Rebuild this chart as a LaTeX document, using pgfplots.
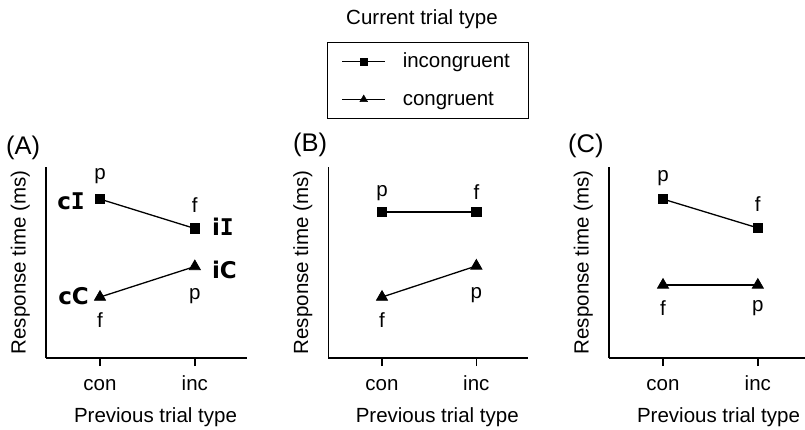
\documentclass[border=0pt]{standalone}
\usepackage{pgfplots}
\pgfplotsset{compat=1.18}
\usepackage{fontspec}
\setmainfont{Liberation Sans}
\newfontfamily\labfont{DejaVu Sans}
\newfontfamily\labmono{DejaVu Sans Mono}

\newcommand{\txt}{\fontsize{20.5bp}{24bp}\selectfont}
\newcommand{\condfont}{\fontsize{23bp}{27bp}\selectfont\bfseries}

\pgfplotsset{
  panel/.style={
    scale only axis, width=201bp, height=191bp,
    xmin=-0.57, xmax=1.55, ymin=0, ymax=100,
    axis x line=bottom, axis y line=left,
    axis line style={-, line width=1.4bp, black},
    xtick={0,1}, xticklabels={con,inc}, ytick=\empty,
    tick align=outside, major tick length=8bp,
    tick style={line width=1.4bp, black},
    xticklabel style={anchor=base, yshift=-24bp},
    xlabel={Previous trial type}, ylabel={Response time (ms)},
    xlabel style={at={(axis description cs:0.545,0)}, anchor=base, yshift=-64.5bp},
    ylabel style={at={(axis description cs:-0.101,0.5)}, anchor=base},
    font=\txt,
    clip=false,
  },
  incong/.style={black, line width=1.3bp, mark=square*, mark size=4.7bp,
    mark options={line width=0.8bp}},
  cong/.style={black, line width=1.3bp, mark=triangle*, mark size=6.4bp,
    mark options={line width=0.8bp}},
}

\begin{document}
\begin{tikzpicture}[x=1bp, y=1bp, font=\txt]
\useasboundingbox (0,0) rectangle (805,429);

% panel A
\begin{axis}[panel, at={(100bp,71bp)}, anchor=origin]
\addplot[incong] coordinates {(0,83.2) (1,67.8)};
\addplot[cong] coordinates {(0,31.9) (1,47.9)};
\node[anchor=base, yshift=20bp] at (axis cs:0,83.2) {p};
\node[anchor=base, yshift=16.5bp] at (axis cs:1,67.8) {f};
\node[anchor=base, yshift=-33bp] at (axis cs:1,47.9) {p};
\node[anchor=base, yshift=-30bp] at (axis cs:0,31.9) {f};
\node[anchor=base east, inner sep=0pt, xshift=-15bp, yshift=-10bp] at (axis cs:0,83.2)
  {\condfont\labfont c\labmono I};
\node[anchor=base west, inner sep=0pt, xshift=17bp, yshift=-6.5bp] at (axis cs:1,67.8)
  {\condfont\labfont i\labmono I};
\node[anchor=base west, inner sep=0pt, xshift=17bp, yshift=-12bp] at (axis cs:1,47.9)
  {\condfont\labfont iC};
\node[anchor=base east, inner sep=0pt, xshift=-11bp, yshift=-7bp] at (axis cs:0,31.9)
  {\condfont\labfont cC};
\end{axis}

% panel B with the legend
\begin{axis}[panel, at={(382bp,71bp)}, anchor=origin, width=200bp,
  legend style={at={(axis description cs:-0.005,1.6545)}, anchor=north west,
    draw=black, line width=0.9bp, inner xsep=14bp, inner ysep=0pt,
    column sep=17bp, row sep=0pt,
    nodes={inner sep=0pt, text height=25bp, text depth=13bp}},
  legend cell align=left,
  legend image code/.code={\draw[mark repeat=2, mark phase=2, #1]
    plot coordinates {(0bp,0bp) (21.5bp,0bp) (43bp,0bp)};}]
\addplot[incong, forget plot] coordinates {(0,76.4) (1,76.4)};
\addplot[cong, forget plot] coordinates {(0,31.9) (1,48.2)};
\addlegendimage{black, line width=1.1bp, mark=square*, mark size=3.4bp, mark options={line width=0.5bp}}
\addlegendentry{\makebox[112bp][l]{incongruent}}
\addlegendimage{black, line width=1.1bp, mark=triangle*, mark size=4.4bp, mark options={line width=0.5bp}}
\addlegendentry{\makebox[112bp][l]{congruent}}
\node[anchor=base, yshift=16bp] at (axis cs:0,76.4) {p};
\node[anchor=base, yshift=13bp] at (axis cs:1,76.4) {f};
\node[anchor=base, yshift=-30bp] at (axis cs:0,31.9) {f};
\node[anchor=base, yshift=-33bp] at (axis cs:1,48.2) {p};
\end{axis}

% panel C
\begin{axis}[panel, at={(663bp,71bp)}, anchor=origin]
\addplot[incong] coordinates {(0,83.2) (1,68.1)};
\addplot[cong] coordinates {(0,38.2) (1,38.2)};
\node[anchor=base, yshift=18bp] at (axis cs:0,83.2) {p};
\node[anchor=base, yshift=16bp] at (axis cs:1,68.1) {f};
\node[anchor=base, yshift=-30bp] at (axis cs:0,38.2) {f};
\node[anchor=base, yshift=-26bp] at (axis cs:1,38.2) {p};
\end{axis}

% panel letters and legend title
\node[anchor=base west, inner sep=0pt, font=\fontsize{25.5bp}{30bp}\selectfont] at (6,275) {(A)};
\node[anchor=base west, inner sep=0pt, font=\fontsize{25.5bp}{30bp}\selectfont] at (293,278) {(B)};
\node[anchor=base west, inner sep=0pt, font=\fontsize{25.5bp}{30bp}\selectfont] at (568,277) {(C)};
\node[anchor=base] at (422,404) {Current trial type};
\end{tikzpicture}
\end{document}
